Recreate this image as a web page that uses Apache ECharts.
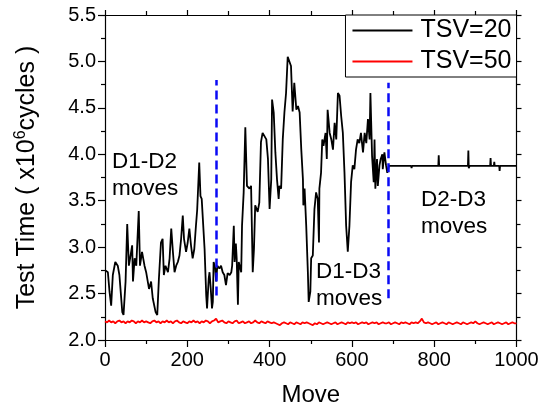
<!DOCTYPE html>
<html><head><meta charset="utf-8">
<script src="https://cdn.jsdelivr.net/npm/echarts@6/dist/echarts.min.js"></script>
<style>html,body{margin:0;padding:0;background:#fff}#c{width:542px;height:412px}</style>
</head><body><div id="c"></div>
<script>
// ---- data ----
const xMin = 0, xMax = 1000, xInterval = 200;
const yMin = 2.0, yMax = 5.5, yInterval = 0.5;

const seriesNames = ['TSV=20', 'TSV=50'];

// TSV=20 : [move, test time]
const tsv20Moves = [1,7,11,15,19,25,31,35,42,45,50,54,58,61,66,68,72,76,82,85,90,96,100,107,112,116,123,127,131,136,140,143,147,153,157,161,165,169,173,177,181,185,189,192,197,201,205,209,213,217,221,224,229,232,235,242,246,248,252,254,257,260,262,264,268,270,273,278,282,286,290,294,298,303,307,309,313,315,318,320,323,325,331,333,337,341,345,351,355,359,362,365,371,375,379,383,387,392,396,400,404,406,410,414,418,422,424,428,432,436,440,444,448,452,456,460,465,469,473,477,481,482,485,489,493,495,499,501,505,509,513,517,520,521,525,528,531,536,539,541,546,550,554,558,562,566,570,574,578,582,586,590,594,598,602,606,610,614,618,622,627,631,635,639,643,645,649,653,655,657,661,663,667,670,674,675,679,683,686,690,744,745,746,810,811,812,882,883,884,886,936,937,938,945,946,947,958,959,960,1000];
const tsv20Values = [2.75,2.73,2.52,2.37,2.70,2.84,2.80,2.70,2.30,2.27,2.63,3.25,2.80,2.88,3.02,2.63,2.88,2.80,3.39,2.80,2.95,2.80,2.73,2.55,2.63,2.45,2.30,2.27,2.66,3.05,3.09,2.70,2.80,2.73,2.88,3.20,2.95,2.73,2.80,2.84,2.91,3.09,3.34,3.09,2.95,3.05,3.20,3.02,2.88,2.98,3.23,3.40,3.91,3.55,3.52,2.98,2.48,2.34,2.66,2.73,2.55,2.34,2.41,2.84,2.77,2.63,2.80,2.77,2.80,2.73,2.70,2.59,2.72,2.70,2.73,2.80,3.23,2.84,3.04,2.88,2.38,2.84,2.73,3.23,3.59,4.29,3.66,3.63,3.66,2.73,2.98,3.45,3.38,3.48,4.13,4.23,4.25,4.16,3.95,3.41,3.73,4.59,4.45,4.02,3.73,3.52,3.66,3.63,4.16,4.45,4.66,5.05,5.04,4.95,4.46,4.77,4.48,4.52,4.45,4.05,3.73,3.45,3.63,3.23,2.73,2.41,2.52,2.88,2.91,3.41,3.59,3.52,3.05,3.63,3.80,4.16,4.09,4.23,3.95,4.48,4.23,4.16,4.05,4.34,4.16,4.66,4.63,4.41,4.23,3.80,3.23,2.95,3.23,3.70,3.88,3.84,4.05,4.16,4.12,4.23,4.02,4.23,4.12,4.38,4.16,4.66,3.98,3.70,4.16,3.63,3.95,3.66,3.88,3.95,4.00,3.84,4.02,3.88,3.80,3.875,3.875,3.85,3.875,3.875,3.99,3.875,3.875,4.04,3.85,3.875,3.875,3.96,3.875,3.875,3.92,3.875,3.875,3.82,3.875,3.875];

// TSV=50 : one value every 5 moves, from move 0 to 1000
const tsv50Step = 5;
const tsv50Values = [
2.20,2.19,2.21,2.19,2.20,2.18,2.20,2.21,2.19,2.20,2.18,2.20,2.19,2.21,2.20,2.18,2.20,2.19,2.21,2.19,
2.20,2.19,2.18,2.20,2.21,2.19,2.20,2.18,2.20,2.19,2.21,2.19,2.20,2.18,2.20,2.21,2.19,2.18,2.20,2.19,
2.18,2.20,2.19,2.21,2.19,2.20,2.18,2.20,2.19,2.21,2.20,2.18,2.20,2.21,2.23,2.19,2.20,2.21,2.19,2.18,
2.20,2.19,2.18,2.20,2.21,2.18,2.19,2.20,2.18,2.19,2.20,2.18,2.19,2.21,2.19,2.18,2.20,2.19,2.18,2.20,
2.19,2.18,2.19,2.18,2.17,2.16,2.18,2.19,2.18,2.17,2.19,2.18,2.17,2.19,2.18,2.17,2.19,2.18,2.19,2.18,
2.17,2.16,2.18,2.17,2.19,2.18,2.17,2.18,2.19,2.18,2.17,2.18,2.19,2.17,2.18,2.19,2.18,2.17,2.19,2.18,
2.19,2.18,2.19,2.17,2.18,2.19,2.18,2.19,2.17,2.18,2.19,2.18,2.19,2.17,2.18,2.19,2.18,2.18,2.19,2.17,
2.18,2.19,2.18,2.17,2.19,2.18,2.19,2.18,2.17,2.19,2.18,2.19,2.18,2.20,2.23,2.19,2.18,2.19,2.18,2.17,
2.18,2.19,2.17,2.18,2.19,2.18,2.17,2.19,2.18,2.17,2.18,2.19,2.18,2.17,2.19,2.18,2.17,2.18,2.19,2.18,
2.20,2.18,2.17,2.18,2.19,2.18,2.17,2.18,2.19,2.17,2.18,2.19,2.18,2.17,2.18,2.19,2.17,2.18,2.19,2.18,
2.18];

// blue dashed separators
const dashX = [270, 689];
const dashLow = [2.48, 2.45];
const dashHigh = [4.80, 4.77];

// region annotations (top-left anchor in data units)
const noteTexts = ['D1-D2\nmoves', 'D1-D3\nmoves', 'D2-D3\nmoves'];
const noteX = [17, 513, 768];
const noteY = [4.06, 2.88, 3.65];

// ---- chart ----
const FONT = 'Liberation Sans, Arial, sans-serif';
const tsv20Data = tsv20Moves.map((m, i) => [m, tsv20Values[i]]);
const tsv50Data = tsv50Values.map((v, i) => [i * tsv50Step, v]);
const noteData = noteTexts.map((t, i) => ({ value: [noteX[i], noteY[i]], name: t }));

const axisBase = {
  type: 'value', min: 0, max: 0, interval: 1,
  axisLine: { show: true, onZero: false, lineStyle: { color: '#000', width: 1.2 } },
  axisTick: { show: true, inside: false, length: 7, lineStyle: { color: '#000', width: 1.2 } },
  minorTick: { show: true, splitNumber: 2, length: 4, lineStyle: { color: '#000', width: 1.2 } },
  splitLine: { show: false },
  axisLabel: { color: '#000', fontSize: 20, fontFamily: FONT }
};
function ax(extra) { return echarts.util.merge(JSON.parse(JSON.stringify(axisBase)), extra, true); }

const chart = echarts.init(document.getElementById('c'), null, { renderer: 'canvas' });
chart.setOption({
  animation: false,
  backgroundColor: '#fff',
  grid: { left: 105, right: 25.5, top: 15, bottom: 70.3, containLabel: false },
  legend: {
    data: seriesNames,
    orient: 'vertical', right: 25.5, top: 15,
    borderColor: '#000', borderWidth: 1, backgroundColor: '#fff',
    padding: [2, 5, 2, 7], itemGap: 4, itemWidth: 60, itemHeight: 2, icon: 'rect',
    textStyle: { fontSize: 25, fontFamily: FONT, color: '#000', lineHeight: 27, padding: [0, 0, 0, 3] }
  },
  xAxis: [
    ax({ min: xMin, max: xMax, interval: xInterval, position: 'bottom',
         name: 'Move', nameLocation: 'middle', nameGap: 43,
         nameTextStyle: { fontSize: 24, fontFamily: FONT, color: '#000' },
         axisLabel: { margin: 10, formatter: v => String(v) } }),
    ax({ min: xMin, max: xMax, interval: xInterval, position: 'top',
         axisLabel: { show: false }, axisTick: { length: 5 } , minorTick: { length: 4 } })
  ],
  yAxis: [
    ax({ min: yMin, max: yMax, interval: yInterval, position: 'left',
         name: '{a|Test Time ( x10}{s|6}{a|cycles )}', nameLocation: 'middle', nameGap: 63, nameRotate: 90,
         nameTextStyle: { color: '#000', rich: {
           a: { fontSize: 25, fontFamily: FONT, color: '#000', lineHeight: 29 },
           s: { fontSize: 16, fontFamily: FONT, color: '#000', verticalAlign: 'top', lineHeight: 14 } } },
         axisLabel: { margin: 9, formatter: v => v.toFixed(1) } }),
    ax({ min: yMin, max: yMax, interval: yInterval, position: 'right',
         axisLabel: { show: false }, axisTick: { length: 5 }, minorTick: { length: 4 } })
  ],
  series: [
    { name: 'TSV=20', type: 'line', data: tsv20Data, symbol: 'none', showSymbol: false,
      lineStyle: { color: '#000', width: 1.8 }, itemStyle: { color: '#000' }, z: 3,
      markLine: { silent: true, symbol: 'none', label: { show: false }, z: 5,
        lineStyle: { color: '#0a0af5', width: 2.5, type: [9, 5] },
        data: dashX.map((x, i) => [{ coord: [x, dashLow[i]] }, { coord: [x, dashHigh[i]] }]) } },
    { name: 'TSV=50', type: 'line', data: tsv50Data, symbol: 'none', showSymbol: false,
      lineStyle: { color: '#ff0000', width: 1.8 }, itemStyle: { color: '#ff0000' }, z: 2 },
    { name: 'notes', type: 'scatter', data: noteData, symbolSize: 0, silent: true, z: 6,
      itemStyle: { opacity: 1 },
      label: { show: true, position: 'inside', formatter: p => p.name, align: 'left', verticalAlign: 'top',
        fontSize: 22.5, lineHeight: 27, fontFamily: FONT, color: '#000', opacity: 1, textBorderWidth: 0 } }
  ]
});
</script></body></html>
